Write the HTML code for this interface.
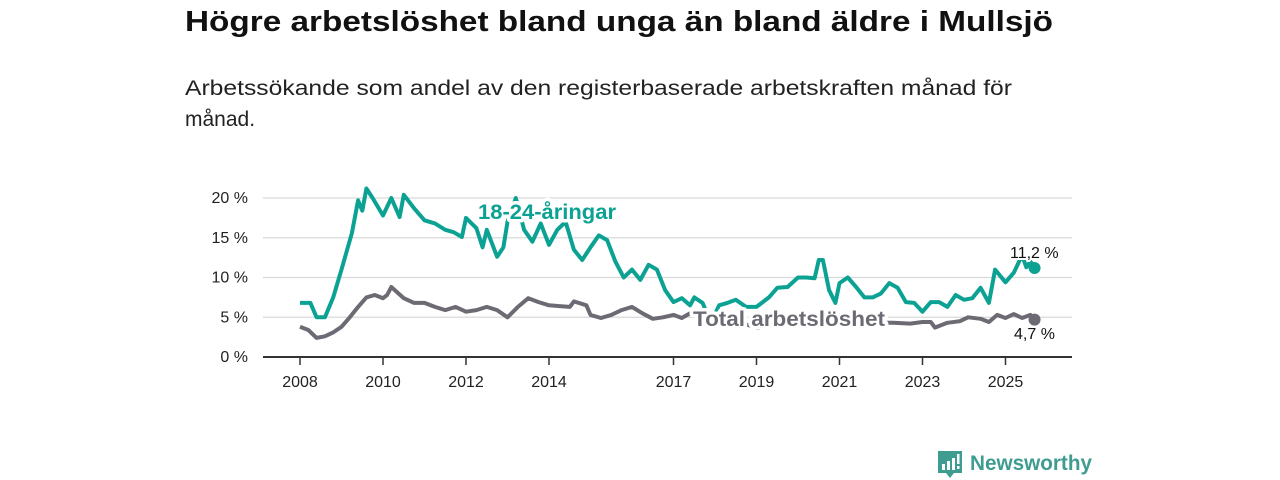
<!DOCTYPE html>
<html><head><meta charset="utf-8"><style>
html,body{margin:0;padding:0;background:#fff;width:1280px;height:480px;overflow:hidden}
svg{display:block;font-family:"Liberation Sans","DejaVu Sans",sans-serif}
</style></head><body>
<svg id="chart" width="1280" height="480" viewBox="0 0 1280 480">
<text x="185" y="31" font-size="29" font-weight="bold" fill="#111" textLength="868" lengthAdjust="spacingAndGlyphs">Högre arbetslöshet bland unga än bland äldre i Mullsjö</text>
<text x="185" y="95" font-size="21" fill="#222" textLength="827" lengthAdjust="spacingAndGlyphs">Arbetssökande som andel av den registerbaserade arbetskraften månad för</text>
<text x="185" y="126" font-size="21" fill="#222">månad.</text>
<g id="grid"></g><g id="axis"></g><g id="lines"></g><g id="labels"></g>
<g>
<path d="M938 451 h24 v22 h-8 l-4 5 l-4 -5 h-8 z" fill="#3f9c91"/>
<rect x="942" y="464" width="3" height="6" fill="#fff"/><rect x="947" y="461" width="3" height="9" fill="#fff"/><rect x="952" y="458" width="3" height="12" fill="#fff"/><rect x="957" y="454" width="2.5" height="10" fill="#fff"/><rect x="957" y="466" width="2.5" height="3" fill="#fff"/>
<text x="970" y="470" font-size="21" font-weight="bold" fill="#3f9c91" textLength="122" lengthAdjust="spacingAndGlyphs">Newsworthy</text>
</g>
</svg>
<script>
const yTicks=[0,5,10,15,20];
const xTickYears=[2008,2010,2012,2014,2017,2019,2021,2023,2025];
const youthDates=[2008.0,2008.25,2008.4,2008.6,2008.8,2009.0,2009.25,2009.4,2009.5,2009.6,2009.75,2010.0,2010.2,2010.4,2010.5,2010.75,2011.0,2011.25,2011.5,2011.7,2011.9,2012.0,2012.25,2012.4,2012.5,2012.75,2012.9,2013.0,2013.2,2013.4,2013.6,2013.8,2014.0,2014.2,2014.4,2014.6,2014.8,2015.0,2015.2,2015.4,2015.6,2015.8,2016.0,2016.2,2016.4,2016.6,2016.8,2017.0,2017.2,2017.4,2017.5,2017.7,2017.9,2018.1,2018.3,2018.5,2018.75,2019.0,2019.3,2019.5,2019.75,2020.0,2020.2,2020.4,2020.5,2020.6,2020.75,2020.9,2021.0,2021.2,2021.4,2021.6,2021.8,2022.0,2022.2,2022.4,2022.6,2022.8,2023.0,2023.2,2023.4,2023.6,2023.8,2024.0,2024.2,2024.4,2024.6,2024.75,2025.0,2025.2,2025.4,2025.5,2025.6,2025.7];
const youthValues=[6.8,6.8,5.0,5.0,7.5,11,15.6,19.7,18.4,21.2,20,17.8,20,17.6,20.4,18.7,17.2,16.8,16,15.7,15.1,17.5,16.2,13.8,16,12.6,13.8,17,20,16,14.5,16.8,14.1,16,17,13.5,12.2,13.8,15.3,14.7,12,10,11,9.7,11.6,11,8.4,6.9,7.4,6.5,7.5,6.8,4.3,6.5,6.8,7.2,6.3,6.3,7.5,8.7,8.8,10,10,9.9,12.2,12.2,8.4,6.8,9.3,10,8.8,7.5,7.5,8,9.3,8.7,6.9,6.8,5.7,6.9,6.9,6.3,7.8,7.2,7.4,8.7,6.8,11,9.4,10.6,12.8,11.3,12,11.2];
const totalDates=[2008.0,2008.2,2008.4,2008.6,2008.8,2009.0,2009.2,2009.4,2009.6,2009.8,2010.0,2010.1,2010.2,2010.5,2010.75,2011.0,2011.25,2011.5,2011.75,2012.0,2012.25,2012.5,2012.75,2013.0,2013.25,2013.5,2013.75,2014.0,2014.25,2014.5,2014.6,2014.9,2015.0,2015.25,2015.5,2015.75,2016.0,2016.25,2016.5,2016.75,2017.0,2017.2,2017.4,2017.6,2017.8,2018.0,2018.25,2018.5,2019.0,2019.5,2020.0,2020.5,2021.0,2021.5,2022.0,2022.3,2022.7,2023.0,2023.2,2023.3,2023.6,2023.9,2024.1,2024.4,2024.6,2024.8,2025.0,2025.2,2025.4,2025.6,2025.7];
const totalValues=[3.8,3.4,2.4,2.6,3.1,3.8,5,6.3,7.5,7.8,7.4,7.8,8.8,7.4,6.8,6.8,6.3,5.9,6.3,5.7,5.9,6.3,5.9,5,6.3,7.4,6.9,6.5,6.4,6.3,7,6.5,5.3,4.9,5.3,5.9,6.3,5.5,4.8,5,5.3,4.9,5.5,5,4,4.4,4.5,4.5,3.7,4.0,4.3,4.3,4.2,4.3,4.3,4.3,4.2,4.4,4.4,3.7,4.3,4.5,5,4.8,4.4,5.3,4.9,5.4,4.9,5.3,4.7];
const NS='http://www.w3.org/2000/svg';
const X0=263,X1=1072;
function xs(yr){return 300+(yr-2008)*41.5;}
function ys(v){return 357-v*7.95;}
function mk(tag,attrs,parent){const e=document.createElementNS(NS,tag);for(const k in attrs)e.setAttribute(k,attrs[k]);parent.appendChild(e);return e;}
const grid=document.getElementById('grid'),axis=document.getElementById('axis'),lines=document.getElementById('lines'),labels=document.getElementById('labels');
yTicks.forEach(t=>{
  if(t>0){const g=mk('line',{x1:X0,x2:X1,y1:ys(t),y2:ys(t),stroke:'#d9d9d9','stroke-width':1.2},grid);
  
  }
  const tx=mk('text',{x:248,y:ys(t)+5,'font-size':16,'text-anchor':'end',fill:'#222'},axis);
  tx.textContent=t+' %';
  
  
});
const ax=mk('line',{x1:X0,x2:X1,y1:357,y2:357,stroke:'#333','stroke-width':2},axis);


xTickYears.forEach(y=>{
  const l=mk('line',{x1:xs(y),x2:xs(y),y1:357,y2:365,stroke:'#333','stroke-width':1.5},axis);
  
  
  const tx=mk('text',{x:xs(y),y:387,'font-size':16,'text-anchor':'middle',fill:'#222'},axis);
  tx.textContent=y;
  
  
});
function path(d,v){return d.map((t,i)=>(i?'L':'M')+xs(t).toFixed(1)+' '+ys(v[i]).toFixed(1)).join(' ');}
const pt=mk('path',{d:path(totalDates,totalValues),fill:'none',stroke:'#6d6a73','stroke-width':4,'stroke-linejoin':'round'},lines);


const py=mk('path',{d:path(youthDates,youthValues),fill:'none',stroke:'#0ba293','stroke-width':4,'stroke-linejoin':'round'},lines);


const ly=youthDates.length-1,lt=totalDates.length-1;
const dy=mk('circle',{cx:xs(youthDates[ly]),cy:ys(youthValues[ly]),r:6,fill:'#0ba293'},lines);


const dt=mk('circle',{cx:xs(totalDates[lt]),cy:ys(totalValues[lt]),r:6,fill:'#6d6a73'},lines);


function lab(x,y,txt,size,fill,bold,name,len){
  const a={x:x,y:y,'font-size':size,fill:fill,'font-weight':bold?'bold':'normal',stroke:'#fff','stroke-width':bold?7:4,'paint-order':'stroke','stroke-linejoin':'round'};
  if(len){a.textLength=len;a.lengthAdjust='spacingAndGlyphs';}
  const t=mk('text',a,labels);
  t.textContent=txt;
  
  
}
lab(478,219,'18-24-åringar',21,'#0ba293',true,'youth-series-label',138);
lab(693,326,'Total arbetslöshet',21,'#6d6a73',true,'total-series-label',192);
lab(1010,258,(youthValues[ly].toFixed(1)).replace('.',',')+' %',16,'#111',false,'youth-last-value');
lab(1014,339,(totalValues[lt].toFixed(1)).replace('.',',')+' %',16,'#111',false,'total-last-value');
</script>
</body></html>
